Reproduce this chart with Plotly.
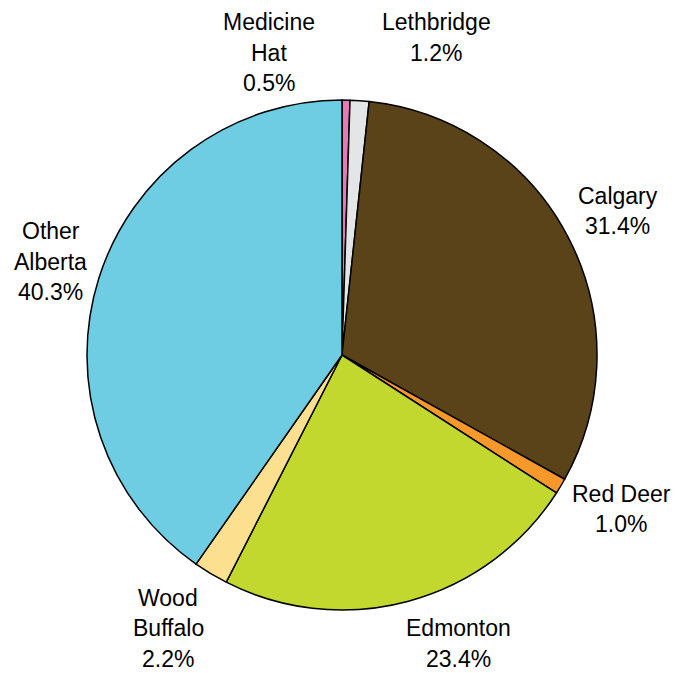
import math
import plotly.graph_objects as go

regions = ["Medicine Hat", "Lethbridge", "Calgary", "Red Deer", "Edmonton", "Wood Buffalo", "Other Alberta"]
label_lines = [["Medicine", "Hat"], ["Lethbridge"], ["Calgary"], ["Red Deer"], ["Edmonton"], ["Wood", "Buffalo"], ["Other", "Alberta"]]
shares = [0.5, 1.2, 31.4, 1.0, 23.4, 2.2, 40.3]
colors = ["#E878B8", "#E4E5E7", "#5A4319", "#F7982A", "#C2D82F", "#FDE08F", "#6ECDE3"]

# label placement styling (angle nudge in degrees, distance in pie radii)
label_angle_nudge = [-14.5, 12.6, -0.2, -2.1, -6.9, 1.5, 0.3]
label_radius = [1.22, 1.30, 1.22, 1.25, 1.22, 1.27, 1.20]

W, H = 687, 673
ML, MR, MT, MB = 79, 98, 92, 71
PW = W - ML - MR
PH = H - MT - MB
LINE_PX = 30.5
FONT = dict(family="Liberation Sans, Arial, sans-serif", size=23, color="black")

fig = go.Figure(go.Pie(
    labels=regions,
    values=shares,
    sort=False,
    direction="clockwise",
    rotation=0,
    marker=dict(colors=colors, line=dict(color="black", width=1.5)),
    textinfo="none",
    automargin=False,
    showlegend=False,
    hoverinfo="label+percent",
))

total = sum(shares)
cum = 0.0
annotations = []
for i, v in enumerate(shares):
    mid = (cum + v / 2) / total * 360.0
    cum += v
    ang = math.radians(mid + label_angle_nudge[i])
    r = label_radius[i] * PW / 2
    cx = r * math.sin(ang)
    cy = -r * math.cos(ang)
    lines = label_lines[i] + [f"{v:.1f}%"]
    n = len(lines)
    for j, t in enumerate(lines):
        dy = cy + (j - (n - 1) / 2) * LINE_PX
        annotations.append(dict(
            x=0.5 + cx / PW, y=0.5 - dy / PH,
            xref="paper", yref="paper",
            text=t, showarrow=False,
            xanchor="center", yanchor="middle",
            font=FONT,
        ))

fig.update_layout(
    width=W, height=H,
    margin=dict(l=ML, r=MR, t=MT, b=MB),
    paper_bgcolor="white",
    plot_bgcolor="white",
    annotations=annotations,
)

fig.write_html("out.html")
